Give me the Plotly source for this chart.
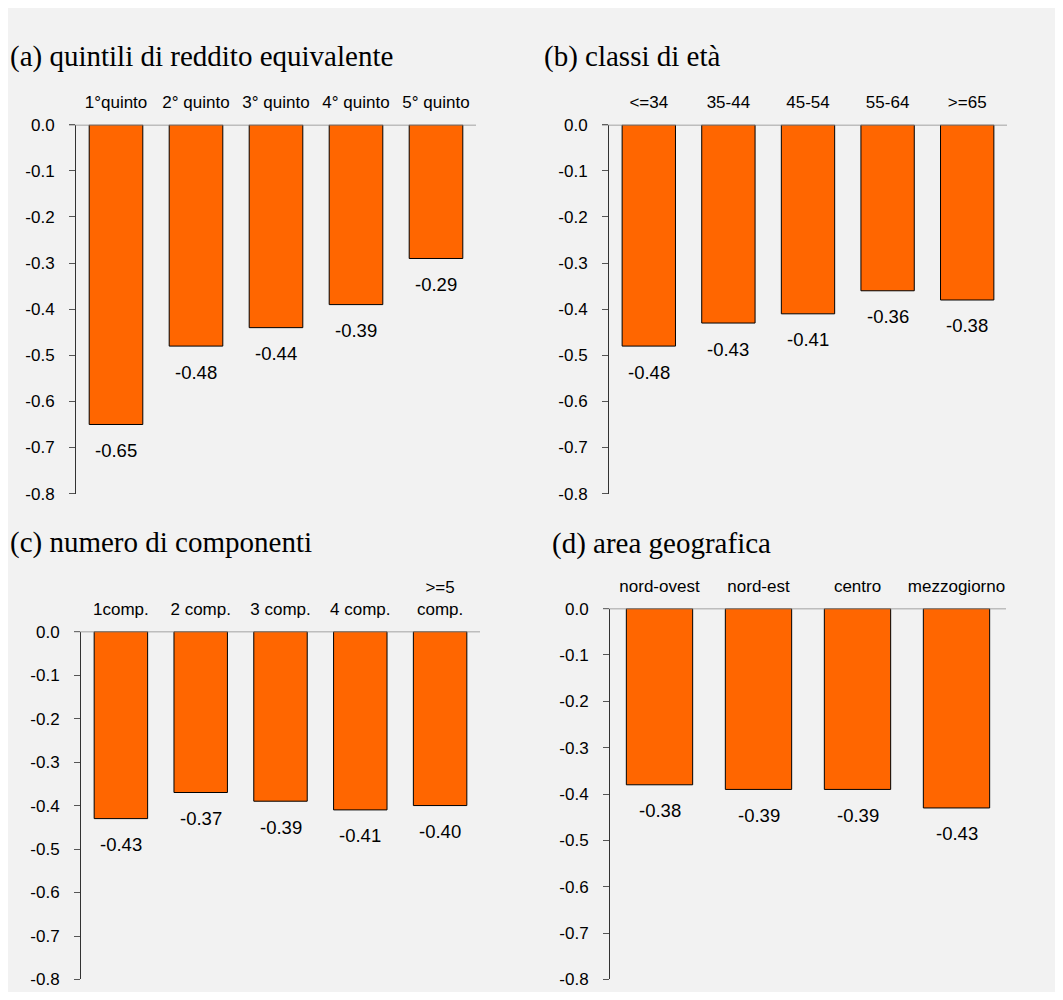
import plotly.graph_objects as go

# measured placement of the figure inside the photographed 1063x1000 window
LEFT = 8
TOP, VSCALE = 16.2, 0.981
W, H = 1063 - 2 * LEFT, 984

# ---- data ----
cat_a = ["1°quinto", "2° quinto", "3° quinto", "4° quinto", "5° quinto"]
val_a = [-0.65, -0.48, -0.44, -0.39, -0.29]

cat_b = ["&lt;=34", "35-44", "45-54", "55-64", "&gt;=65"]
val_b = [-0.48, -0.43, -0.41, -0.36, -0.38]

cat_c = ["1comp.", "2 comp.", "3 comp.", "4 comp.", "&gt;=5<br>comp."]
val_c = [-0.43, -0.37, -0.39, -0.41, -0.40]

cat_d = ["nord-ovest", "nord-est", "centro", "mezzogiorno"]
val_d = [-0.38, -0.39, -0.39, -0.43]

titles = ["(a) quintili di reddito equivalente", "(b) classi di età",
          "(c) numero di componenti", "(d) area geografica"]

y_ticks = [0.0, -0.1, -0.2, -0.3, -0.4, -0.5, -0.6, -0.7, -0.8]
y_tick_text = ["0.0", "-0.1", "-0.2", "-0.3", "-0.4", "-0.5", "-0.6", "-0.7", "-0.8"]

# ---- layout geometry (window pixels) ----
panels = [
    dict(cats=cat_a, vals=val_a, x=(76, 476), y=(124, 493), title=titles[0], tpos=(8, 56)),
    dict(cats=cat_b, vals=val_b, x=(609, 1007), y=(124, 493), title=titles[1], tpos=(542, 56)),
    dict(cats=cat_c, vals=val_c, x=(81, 480), y=(631, 979), title=titles[2], tpos=(8, 541.5)),
    dict(cats=cat_d, vals=val_d, x=(610, 1006), y=(608, 979), title=titles[3], tpos=(550, 543)),
]


def fx(px):
    return min(1.0, max(0.0, (px - LEFT) / W))


def fy(py):
    return min(1.0, max(0.0, 1 - ((py - TOP) / VSCALE) / H))


SANS = "Liberation Sans, Arial, sans-serif"
SERIF = "Liberation Serif, Times New Roman, serif"
ORANGE = "#FF6600"

fig = go.Figure()
annotations = []
shapes = []

for i, p in enumerate(panels, start=1):
    sfx = "" if i == 1 else str(i)
    xa, ya = "x" + sfx, "y" + sfx
    fig.add_trace(go.Bar(
        x=p["cats"], y=p["vals"], xaxis=xa, yaxis=ya,
        marker=dict(color=ORANGE, line=dict(color="black", width=1)),
        showlegend=False, hoverinfo="skip",
    ))
    x0, x1 = p["x"]
    ytop, ybot = p["y"]
    fig.update_layout(**{
        "xaxis" + sfx: dict(
            domain=[fx(x0), fx(x1)], anchor=ya, side="top",
            showline=False, showgrid=False, zeroline=False,
            ticks="", tickfont=dict(family=SANS, size=17, color="black"),
            ticklabelstandoff=12, fixedrange=True,
        ),
        "yaxis" + sfx: dict(
            domain=[fy(ybot), fy(ytop)], anchor=xa, range=[-0.8, 0],
            tickvals=y_ticks, ticktext=y_tick_text,
            showline=True, linecolor="#333333", linewidth=1,
            ticks="outside", ticklen=6, tickcolor="#555555",
            showgrid=False, zeroline=False,
            tickfont=dict(family=SANS, size=17, color="black"),
            ticklabelstandoff=11, fixedrange=True,
        ),
    })
    # zero line across the top
    shapes.append(dict(type="line", xref=xa + " domain", yref=ya,
                       x0=-7 / (x1 - x0), x1=1, y0=0, y1=0,
                       line=dict(color="#888888", width=1.5)))
    # value labels
    for c, v in zip(p["cats"], p["vals"]):
        annotations.append(dict(x=c, y=v, xref=xa, yref=ya, text=f"{v:.2f}",
                                showarrow=False, yanchor="middle", yshift=-26,
                                font=dict(family=SANS, size=18.5, color="black")))
    # panel title
    tx, ty = p["tpos"]
    annotations.append(dict(x=fx(tx), y=fy(ty), xref="paper", yref="paper",
                            xanchor="left", yanchor="middle", showarrow=False,
                            text=p["title"], font=dict(family=SERIF, size=29, color="black")))

fig.update_layout(
    width=W, height=H,
    margin=dict(l=0, r=0, t=0, b=0),
    paper_bgcolor="#f2f2f2", plot_bgcolor="rgba(0,0,0,0)",
    bargap=0.33,
    shapes=shapes, annotations=annotations,
)

fig.write_html("out.html")
